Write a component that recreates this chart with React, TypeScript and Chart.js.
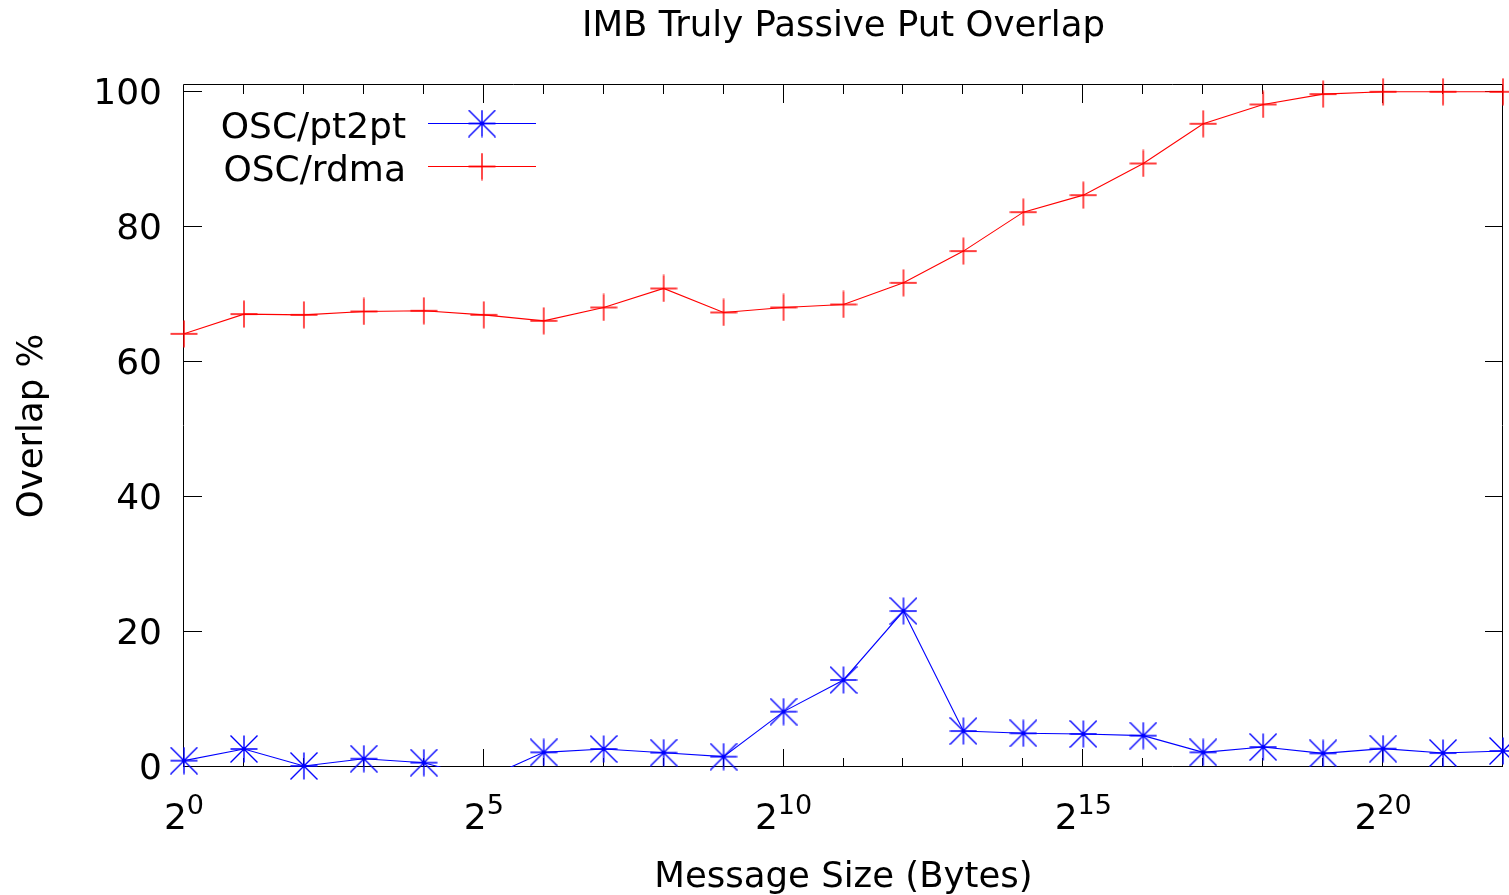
import React, { useEffect, useRef } from "react";
import { Chart, registerables } from "chart.js";

Chart.register(...registerables);

// ---- data (x = log2 of message size in bytes) ----
const EXPONENTS = [0, 1, 2, 3, 4, 5, 6, 7, 8, 9, 10, 11, 12, 13, 14, 15, 16, 17, 18, 19, 20, 21, 22];
const PT2PT = [0.94, 2.67, 0.15, 1.23, 0.64, -1.8, 2.17, 2.67, 2.12, 1.53, 8.2, 12.89, 23.1, 5.33, 4.99, 4.89, 4.64, 2.17, 2.96, 2.02, 2.72, 2.07, 2.37];
const RDMA = [64.15, 67.07, 66.96, 67.46, 67.56, 66.96, 66.07, 68.05, 70.87, 67.31, 68.05, 68.5, 71.7, 76.4, 82.17, 84.69, 89.38, 95.26, 98.12, 99.65, 100, 100, 100];
const SERIES_LABELS = ["OSC/pt2pt", "OSC/rdma"];
const Y_TICKS = [0, 20, 40, 60, 80, 100];
const X_MAJOR = [0, 5, 10, 15, 20];
const X_MIN = 0;
const X_MAX = 22;
const Y_MIN = 0;
const Y_MAX = 101;
const TITLE = "IMB Truly Passive Put Overlap";
const X_TITLE = "Message Size (Bytes)";
const Y_TITLE = "Overlap %";

const FAMILY = '"DejaVu Sans", "Liberation Sans", sans-serif';
const BLUE = "#0000ff";
const RED = "#ff0000";

function makeMarker(kind: "star" | "plus", color: string): HTMLCanvasElement {
  const S = 28;
  const c = S / 2;
  const h = 13.5;
  const cv = document.createElement("canvas");
  cv.width = S;
  cv.height = S;
  const g = cv.getContext("2d")!;
  g.strokeStyle = color;
  g.lineWidth = 1.4;
  g.beginPath();
  g.moveTo(c, c - h);
  g.lineTo(c, c + h);
  g.moveTo(c - h, c);
  g.lineTo(c + h, c);
  if (kind === "star") {
    g.moveTo(c - h, c - h);
    g.lineTo(c + h, c + h);
    g.moveTo(c + h, c - h);
    g.lineTo(c - h, c + h);
  }
  g.stroke();
  return cv;
}

export default function App() {
  const ref = useRef<HTMLCanvasElement | null>(null);

  useEffect(() => {
    if (!ref.current) return;
    const star = makeMarker("star", BLUE);
    const plus = makeMarker("plus", RED);

    const pts = (arr: number[]) => EXPONENTS.map((e, i) => ({ x: e, y: arr[i] }));
    const visible = (arr: number[]) =>
      EXPONENTS.map((e, i) => ({ x: e, y: arr[i] < Y_MIN || arr[i] > Y_MAX ? null : arr[i] }));

    const gnuplotPlugin = {
      id: "gnuplotLook",
      beforeDatasetsDraw(chart: any) {
        const { ctx, chartArea: a, scales } = chart;
        const xs = scales.x;
        const ys = scales.y;
        ctx.save();
        ctx.strokeStyle = "#000";
        ctx.lineWidth = 1;
        ctx.beginPath();
        ctx.rect(a.left - 0.5, a.top - 0.5, a.right - a.left, a.bottom - a.top);
        // y ticks (inward, mirrored)
        for (const v of Y_TICKS) {
          const py = Math.round(ys.getPixelForValue(v)) - 0.5;
          ctx.moveTo(a.left, py);
          ctx.lineTo(a.left + 18, py);
          ctx.moveTo(a.right, py);
          ctx.lineTo(a.right - 18, py);
        }
        // x ticks: major every 5, minor every power of two
        for (const e of EXPONENTS) {
          const len = X_MAJOR.includes(e) ? 18 : 9;
          const px = Math.round(xs.getPixelForValue(e)) - 0.5;
          ctx.moveTo(px, a.bottom);
          ctx.lineTo(px, a.bottom - len);
          ctx.moveTo(px, a.top);
          ctx.lineTo(px, a.top + len);
        }
        ctx.stroke();
        ctx.restore();
      },
      afterDraw(chart: any) {
        const { ctx, chartArea: a, scales } = chart;
        const xs = scales.x;
        const cx = (a.left + a.right) / 2;
        const cy = (a.top + a.bottom) / 2;
        ctx.save();
        ctx.fillStyle = "#000";
        ctx.textBaseline = "alphabetic";

        // title
        ctx.font = `35.5px ${FAMILY}`;
        ctx.textAlign = "center";
        ctx.fillText(TITLE, cx, 36);
        // x title
        ctx.fillText(X_TITLE, cx, 887);
        // y title
        ctx.save();
        ctx.translate(42, cy);
        ctx.rotate(-Math.PI / 2);
        ctx.fillText(Y_TITLE, 0, 0);
        ctx.restore();

        // x tick labels 2^n
        ctx.textAlign = "left";
        for (const e of X_MAJOR) {
          const px = xs.getPixelForValue(e);
          ctx.font = `36px ${FAMILY}`;
          const w1 = ctx.measureText("2").width;
          ctx.font = `27px ${FAMILY}`;
          const w2 = ctx.measureText(String(e)).width;
          const start = px - (w1 + w2) / 2;
          ctx.font = `36px ${FAMILY}`;
          ctx.fillText("2", start, 829);
          ctx.font = `27px ${FAMILY}`;
          ctx.fillText(String(e), start + w1, 814);
        }

        // legend
        const rows = [
          { label: SERIES_LABELS[0], color: BLUE, img: star, y: 123 },
          { label: SERIES_LABELS[1], color: RED, img: plus, y: 166 },
        ];
        ctx.font = `36px ${FAMILY}`;
        ctx.textAlign = "right";
        for (const r of rows) {
          ctx.fillStyle = "#000";
          ctx.fillText(r.label, 406, r.y + 15);
          ctx.strokeStyle = r.color;
          ctx.lineWidth = 1.1;
          ctx.beginPath();
          ctx.moveTo(428, r.y + 0.5);
          ctx.lineTo(536, r.y + 0.5);
          ctx.stroke();
          ctx.drawImage(r.img, 482 - r.img.width / 2, r.y + 0.5 - r.img.height / 2);
        }
        ctx.restore();
      },
    };

    const noClip = { left: 0, top: 0, right: 0, bottom: 0 };

    const chart = new Chart(ref.current, {
      type: "line",
      data: {
        datasets: [
          {
            label: SERIES_LABELS[0],
            data: pts(PT2PT),
            borderColor: BLUE,
            borderWidth: 1.1,
            pointRadius: 0,
            fill: false,
            tension: 0,
            clip: noClip,
          },
          {
            label: SERIES_LABELS[0] + " markers",
            data: visible(PT2PT),
            showLine: false,
            pointStyle: star,
            pointRadius: 4,
            pointBorderWidth: 0,
            borderColor: BLUE,
            backgroundColor: BLUE,
            clip: false,
          },
          {
            label: SERIES_LABELS[1],
            data: pts(RDMA),
            borderColor: RED,
            borderWidth: 1.1,
            pointRadius: 0,
            fill: false,
            tension: 0,
            clip: noClip,
          },
          {
            label: SERIES_LABELS[1] + " markers",
            data: visible(RDMA),
            showLine: false,
            pointStyle: plus,
            pointRadius: 4,
            pointBorderWidth: 0,
            borderColor: RED,
            backgroundColor: RED,
            clip: false,
          },
        ] as any,
      },
      options: {
        responsive: false,
        maintainAspectRatio: false,
        devicePixelRatio: 1,
        animation: false,
        events: [],
        layout: { padding: { left: 0, top: 85, right: 6, bottom: 128 } },
        plugins: {
          legend: { display: false },
          title: { display: false },
          tooltip: { enabled: false },
        },
        scales: {
          x: {
            type: "linear",
            display: false,
            min: X_MIN,
            max: X_MAX,
          },
          y: {
            type: "linear",
            min: Y_MIN,
            max: Y_MAX,
            afterBuildTicks: (s: any) => {
              s.ticks = Y_TICKS.map((v) => ({ value: v }));
            },
            afterFit: (s: any) => {
              s.width = 184;
            },
            grid: { display: false, drawTicks: false },
            border: { display: false },
            ticks: {
              color: "#000",
              padding: 22,
              labelOffset: 3,
              font: { family: FAMILY, size: 36 },
            },
          },
        },
      } as any,
      plugins: [gnuplotPlugin],
    });

    return () => chart.destroy();
  }, []);

  return (
    <div style={{ position: "absolute", left: 0, top: 0, width: 1509, height: 895, background: "#fff" }}>
      <canvas ref={ref} width={1509} height={895} style={{ display: "block" }} />
    </div>
  );
}
